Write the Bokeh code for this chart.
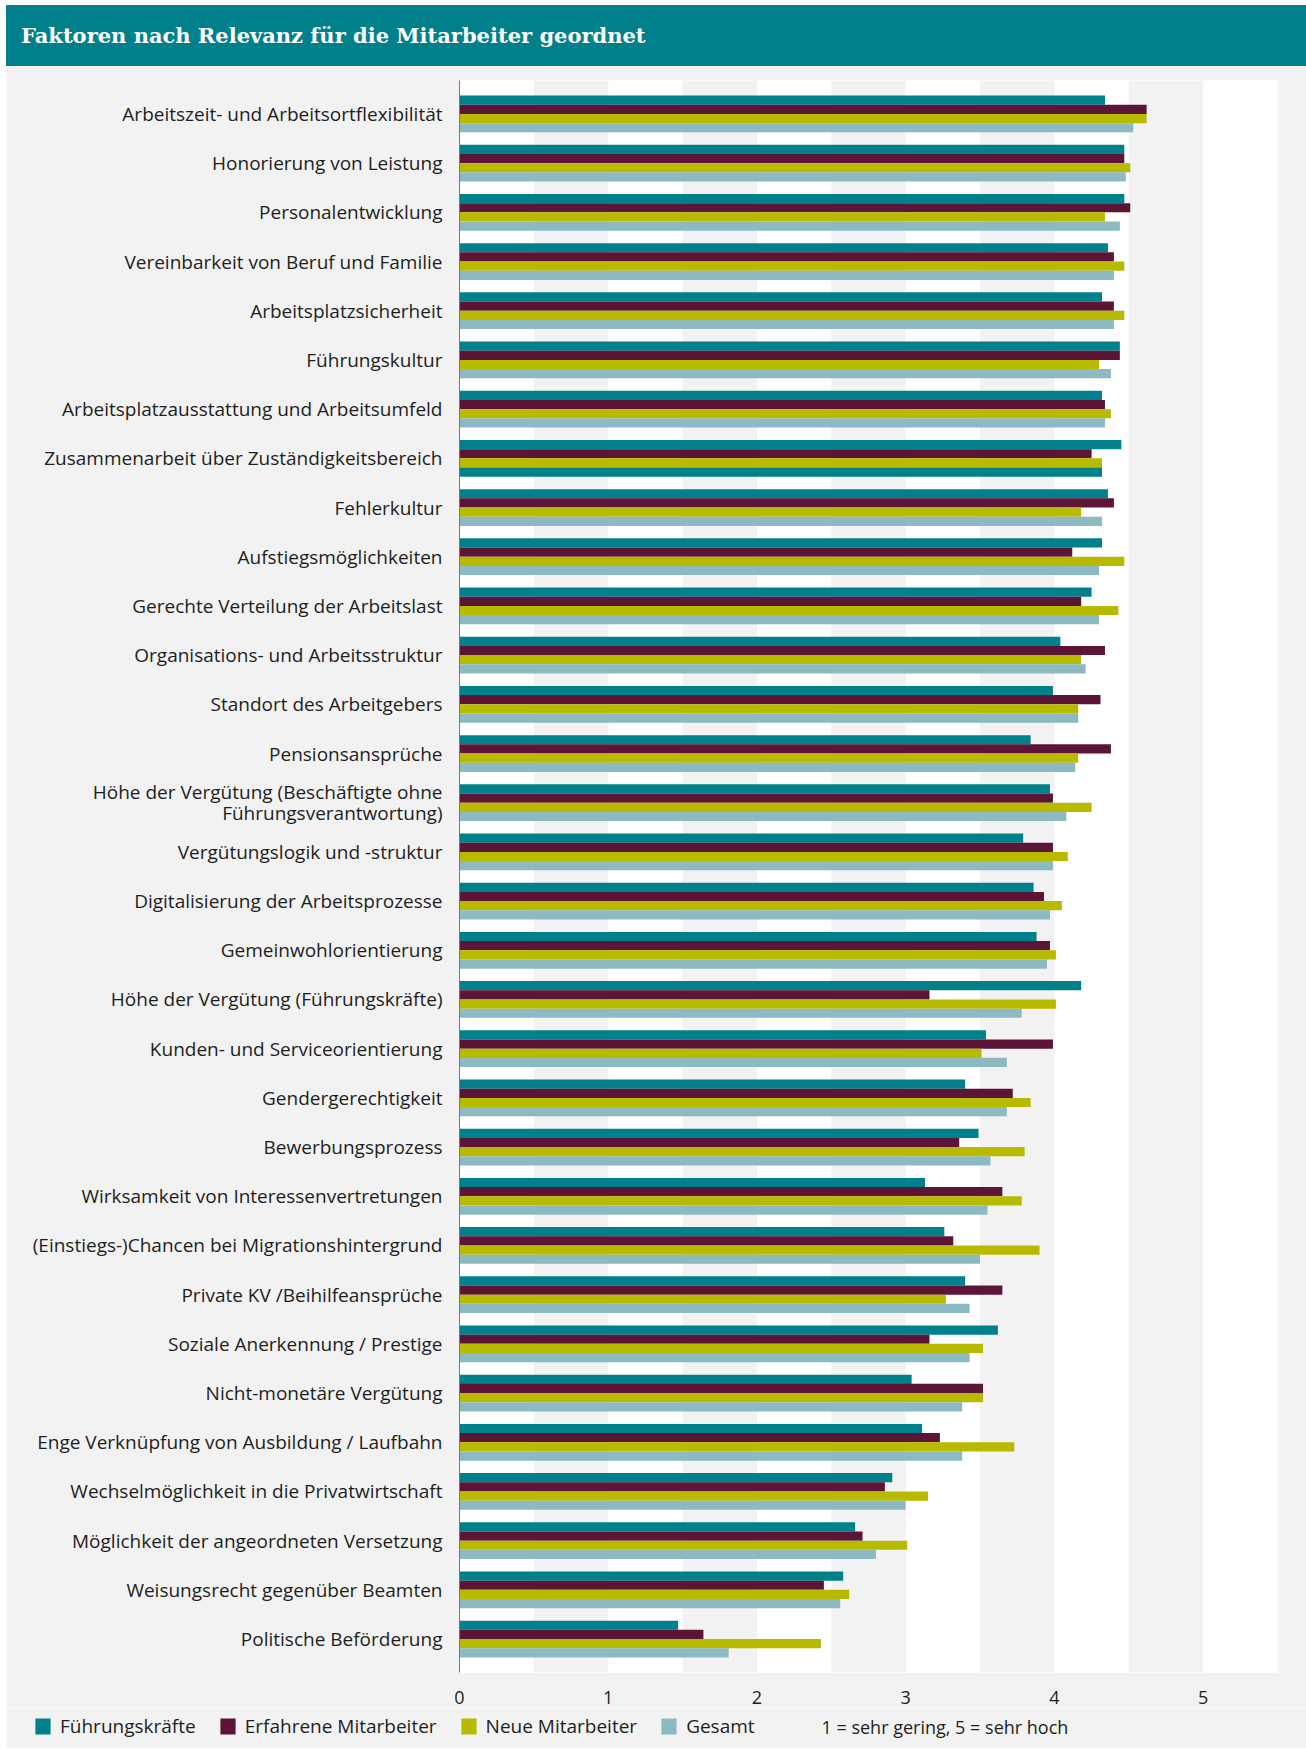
from bokeh.plotting import figure
from bokeh.models import (ColumnDataSource, FactorRange, Range1d, FixedTicker,
                          Legend, LegendItem, Label, Div)
from bokeh.layouts import column
from bokeh.transform import dodge
from bokeh.embed import file_html
from bokeh.resources import INLINE

TITLE = "Faktoren nach Relevanz für die Mitarbeiter geordnet"
SCALE_NOTE = "1 = sehr gering, 5 = sehr hoch"

factors = [
    "Arbeitszeit- und Arbeitsortflexibilität",
    "Honorierung von Leistung",
    "Personalentwicklung",
    "Vereinbarkeit von Beruf und Familie",
    "Arbeitsplatzsicherheit",
    "Führungskultur",
    "Arbeitsplatzausstattung und Arbeitsumfeld",
    "Zusammenarbeit über Zuständigkeitsbereich",
    "Fehlerkultur",
    "Aufstiegsmöglichkeiten",
    "Gerechte Verteilung der Arbeitslast",
    "Organisations- und Arbeitsstruktur",
    "Standort des Arbeitgebers",
    "Pensionsansprüche",
    "Höhe der Vergütung (Beschäftigte ohne\nFührungsverantwortung)",
    "Vergütungslogik und -struktur",
    "Digitalisierung der Arbeitsprozesse",
    "Gemeinwohlorientierung",
    "Höhe der Vergütung (Führungskräfte)",
    "Kunden- und Serviceorientierung",
    "Gendergerechtigkeit",
    "Bewerbungsprozess",
    "Wirksamkeit von Interessenvertretungen",
    "(Einstiegs-)Chancen bei Migrationshintergrund",
    "Private KV /Beihilfeansprüche",
    "Soziale Anerkennung / Prestige",
    "Nicht-monetäre Vergütung",
    "Enge Verknüpfung von Ausbildung / Laufbahn",
    "Wechselmöglichkeit in die Privatwirtschaft",
    "Möglichkeit der angeordneten Versetzung",
    "Weisungsrecht gegenüber Beamten",
    "Politische Beförderung",
]

fuehrungskraefte = [4.34, 4.47, 4.47, 4.36, 4.32, 4.44, 4.32, 4.45, 4.36, 4.32, 4.25, 4.04,
                    3.99, 3.84, 3.97, 3.79, 3.86, 3.88, 4.18, 3.54, 3.40, 3.49, 3.13, 3.26,
                    3.40, 3.62, 3.04, 3.11, 2.91, 2.66, 2.58, 1.47]
erfahrene = [4.62, 4.47, 4.51, 4.40, 4.40, 4.44, 4.34, 4.25, 4.40, 4.12, 4.18, 4.34,
             4.31, 4.38, 3.99, 3.99, 3.93, 3.97, 3.16, 3.99, 3.72, 3.36, 3.65, 3.32,
             3.65, 3.16, 3.52, 3.23, 2.86, 2.71, 2.45, 1.64]
neue = [4.62, 4.51, 4.34, 4.47, 4.47, 4.30, 4.38, 4.32, 4.18, 4.47, 4.43, 4.18,
        4.16, 4.16, 4.25, 4.09, 4.05, 4.01, 4.01, 3.51, 3.84, 3.80, 3.78, 3.90,
        3.27, 3.52, 3.52, 3.73, 3.15, 3.01, 2.62, 2.43]
gesamt = [4.53, 4.48, 4.44, 4.40, 4.40, 4.38, 4.34, 4.32, 4.32, 4.30, 4.30, 4.21,
          4.16, 4.14, 4.08, 3.99, 3.97, 3.95, 3.78, 3.68, 3.68, 3.57, 3.55, 3.50,
          3.43, 3.43, 3.38, 3.38, 3.00, 2.80, 2.56, 1.81]
series_names = ["Führungskräfte", "Erfahrene Mitarbeiter", "Neue Mitarbeiter", "Gesamt"]
x_ticks = [0, 1, 2, 3, 4, 5]

TEAL = "#00808a"
RED = "#5c1537"
YELLOW = "#b8ba00"
BLUE = "#8cb9c2"
BG = "#f2f2f2"
TXT = "#1e1e1e"
FONT = "Open Sans"

# the reference draws the "Gesamt" bar of one row in teal
gesamt_colors = [BLUE] * len(factors)
gesamt_colors[7] = TEAL

source = ColumnDataSource(dict(cat=factors, fk=fuehrungskraefte, em=erfahrene,
                               nm=neue, ge=gesamt, ge_color=gesamt_colors))

y_range = FactorRange(factors=list(reversed(factors)), range_padding=0.18,
                      range_padding_units="absolute")

p = figure(width=1300, height=1642, y_range=y_range, x_range=Range1d(0, 5.5),
           output_backend="svg", toolbar_location=None,
           min_border_left=453, min_border_right=29, min_border_top=14,
           min_border_bottom=36, background_fill_color="white", border_fill_color=BG,
           outline_line_color=None, margin=(0, 0, 0, 6))
p.frame_align = False

bh = 0.187
r1 = p.hbar(y=dodge("cat", 0.28, range=p.y_range), right="fk", height=bh,
            source=source, fill_color=TEAL, line_color=None)
r2 = p.hbar(y=dodge("cat", 0.0935, range=p.y_range), right="em", height=bh,
            source=source, fill_color=RED, line_color=None)
r3 = p.hbar(y=dodge("cat", -0.0935, range=p.y_range), right="nm", height=bh,
            source=source, fill_color=YELLOW, line_color=None)
r4 = p.hbar(y=dodge("cat", -0.28, range=p.y_range), right="ge", height=bh,
            source=source, fill_color="ge_color", line_color=None)

# alternating grid bands (white / light grey)
p.ygrid.grid_line_color = None
p.xgrid.grid_line_color = None
p.xgrid.ticker = FixedTicker(ticks=[i * 0.5 for i in range(12)])
p.xgrid.band_fill_color = BG
p.xgrid.band_fill_alpha = 1.0

# x axis
p.xaxis.ticker = FixedTicker(ticks=x_ticks)
p.xaxis.axis_line_color = None
p.xaxis.major_tick_line_color = None
p.xaxis.minor_tick_line_color = None
p.xaxis.major_label_text_font = FONT
p.xaxis.major_label_text_font_size = "18px"
p.xaxis.major_label_text_color = TXT
p.xaxis.major_label_standoff = 12

# y axis
p.yaxis.axis_line_color = "#7a7a7a"
p.yaxis.axis_line_width = 1
p.yaxis.major_tick_line_color = None
p.yaxis.minor_tick_line_color = None
p.yaxis.major_label_text_font = FONT
p.yaxis.major_label_text_font_size = "19px"
p.yaxis.major_label_text_color = TXT
p.yaxis.major_label_text_line_height = 0.82
p.yaxis.major_label_standoff = 11

# legend row (its own small figure so nothing is clipped by the main frame)
leg = figure(width=1300, height=40, x_range=Range1d(0, 1300), y_range=Range1d(0, 40),
             output_backend="svg", toolbar_location=None, x_axis_location=None,
             y_axis_location=None, min_border=0, min_border_left=0,
             min_border_right=0, min_border_top=0, min_border_bottom=0,
             background_fill_color=BG, border_fill_color=BG,
             outline_line_color=None, margin=(0, 0, 0, 6))
leg.frame_align = False
leg.grid.visible = False
swatch_colors = [TEAL, RED, YELLOW, BLUE]
items = []
for name, col in zip(series_names, swatch_colors):
    # swatch-only renderer, its single bar lies outside the visible range
    rr = leg.hbar(y=[-50], right=[1], height=1, fill_color=col, line_color=None)
    items.append(LegendItem(label=name, renderers=[rr], index=0))

legend = Legend(items=items, orientation="horizontal", location=(27, 9), spacing=22,
                label_standoff=8, glyph_width=19, glyph_height=20, label_height=20,
                padding=0, margin=0, background_fill_alpha=0, border_line_color=None,
                label_text_font=FONT, label_text_font_size="19px",
                label_text_color=TXT)
leg.add_layout(legend)

note = Label(x=815, y=22, x_units="screen", y_units="screen", text=SCALE_NOTE,
             text_baseline="middle", text_font=FONT, text_font_size="18px",
             text_color=TXT)
leg.add_layout(note)

title_html = (
    '<div style="background-color:%s;color:white;width:1300px;height:61px;'
    'line-height:61px;padding-left:15px;box-sizing:border-box;'
    "font-family:'DejaVu Serif';font-weight:bold;font-size:21px;"
    'white-space:nowrap;">%s</div>' % (TEAL, TITLE)
)
title_div = Div(text=title_html, width=1300, height=61, margin=(5, 0, 0, 6))

layout = column(title_div, p, leg, spacing=0)

with open("out.html", "w") as f:
    f.write(file_html(layout, INLINE))
